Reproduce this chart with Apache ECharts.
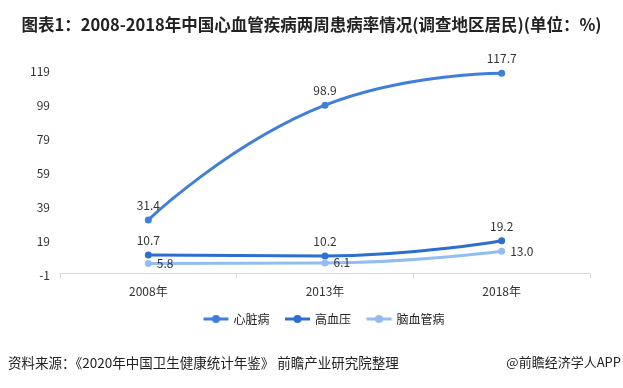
<!DOCTYPE html>
<html><head><meta charset="utf-8">
<script src="https://cdn.jsdelivr.net/npm/echarts@6/dist/echarts.min.js"></script>
<style>html,body{margin:0;padding:0;background:#fff}#c{width:623px;height:388px}</style>
</head><body><div id="c"></div>
<script>
const categories = ['2008年', '2013年', '2018年'];
const heart = [31.4, 98.9, 117.7];
const hypertension = [10.7, 10.2, 19.2];
const cerebro = [5.8, 6.1, 13.0];
const yMin = -1, yMax = 119, yStep = 20;

const font = '"Noto Sans CJK SC", "Noto Sans", sans-serif';
const chart = echarts.init(document.getElementById('c'));
const lbl = (pos) => ({show: true, position: pos, color: '#333', fontSize: 12, fontFamily: font, formatter: p => p.value.toFixed(1)});
chart.setOption({
  animation: false,
  textStyle: {fontFamily: font},
  title: {text: '图表1：2008-2018年中国心血管疾病两周患病率情况(调查地区居民)(单位：%)', left: 'center', top: 11,
    textStyle: {fontSize: 16.5, fontWeight: 'bold', color: '#222', fontFamily: font}},
  grid: {left: 60, right: 33, top: 71, bottom: 113},
  legend: {bottom: 58, left: 197, itemWidth: 25, itemHeight: 10, itemGap: 14,
    lineStyle: {width: 3},
    textStyle: {fontSize: 12, color: '#222', fontFamily: font},
    data: ['心脏病', '高血压', '脑血管病']},
  xAxis: {type: 'category', data: categories,
    axisLine: {lineStyle: {color: '#d9d9d9'}},
    axisTick: {show: true, length: 5, lineStyle: {color: '#d9d9d9'}},
    axisLabel: {color: '#333', fontSize: 12, margin: 10}},
  yAxis: {type: 'value', min: yMin, max: yMax, interval: yStep,
    axisLine: {show: false}, axisTick: {show: false}, splitLine: {show: false},
    axisLabel: {color: '#333', fontSize: 12, margin: 10}},
  series: [
    {name: '心脏病', type: 'line', data: heart, smooth: 0.5, symbol: 'circle', symbolSize: 7,
     lineStyle: {width: 3, color: '#3f7fdb'}, itemStyle: {color: '#3f7fdb'}, label: lbl('top')},
    {name: '高血压', type: 'line', data: hypertension, smooth: 0.5, symbol: 'circle', symbolSize: 7,
     lineStyle: {width: 3, color: '#2d6fd0'}, itemStyle: {color: '#2d6fd0'}, label: lbl('top')},
    {name: '脑血管病', type: 'line', data: cerebro, smooth: 0.5, symbol: 'circle', symbolSize: 7,
     lineStyle: {width: 3, color: '#93bdf2'}, itemStyle: {color: '#93bdf2'}, label: lbl('right')}
  ],
  graphic: [
    {type: 'text', left: 8, top: 356, style: {text: '资料来源：《2020年中国卫生健康统计年鉴》 前瞻产业研究院整理', fontSize: 13.5, fill: '#222', fontFamily: font}},
    {type: 'text', right: 2, top: 356, style: {text: '@前瞻经济学人APP', fontSize: 13, fill: '#222', fontFamily: font}}
  ]
});
</script></body></html>
